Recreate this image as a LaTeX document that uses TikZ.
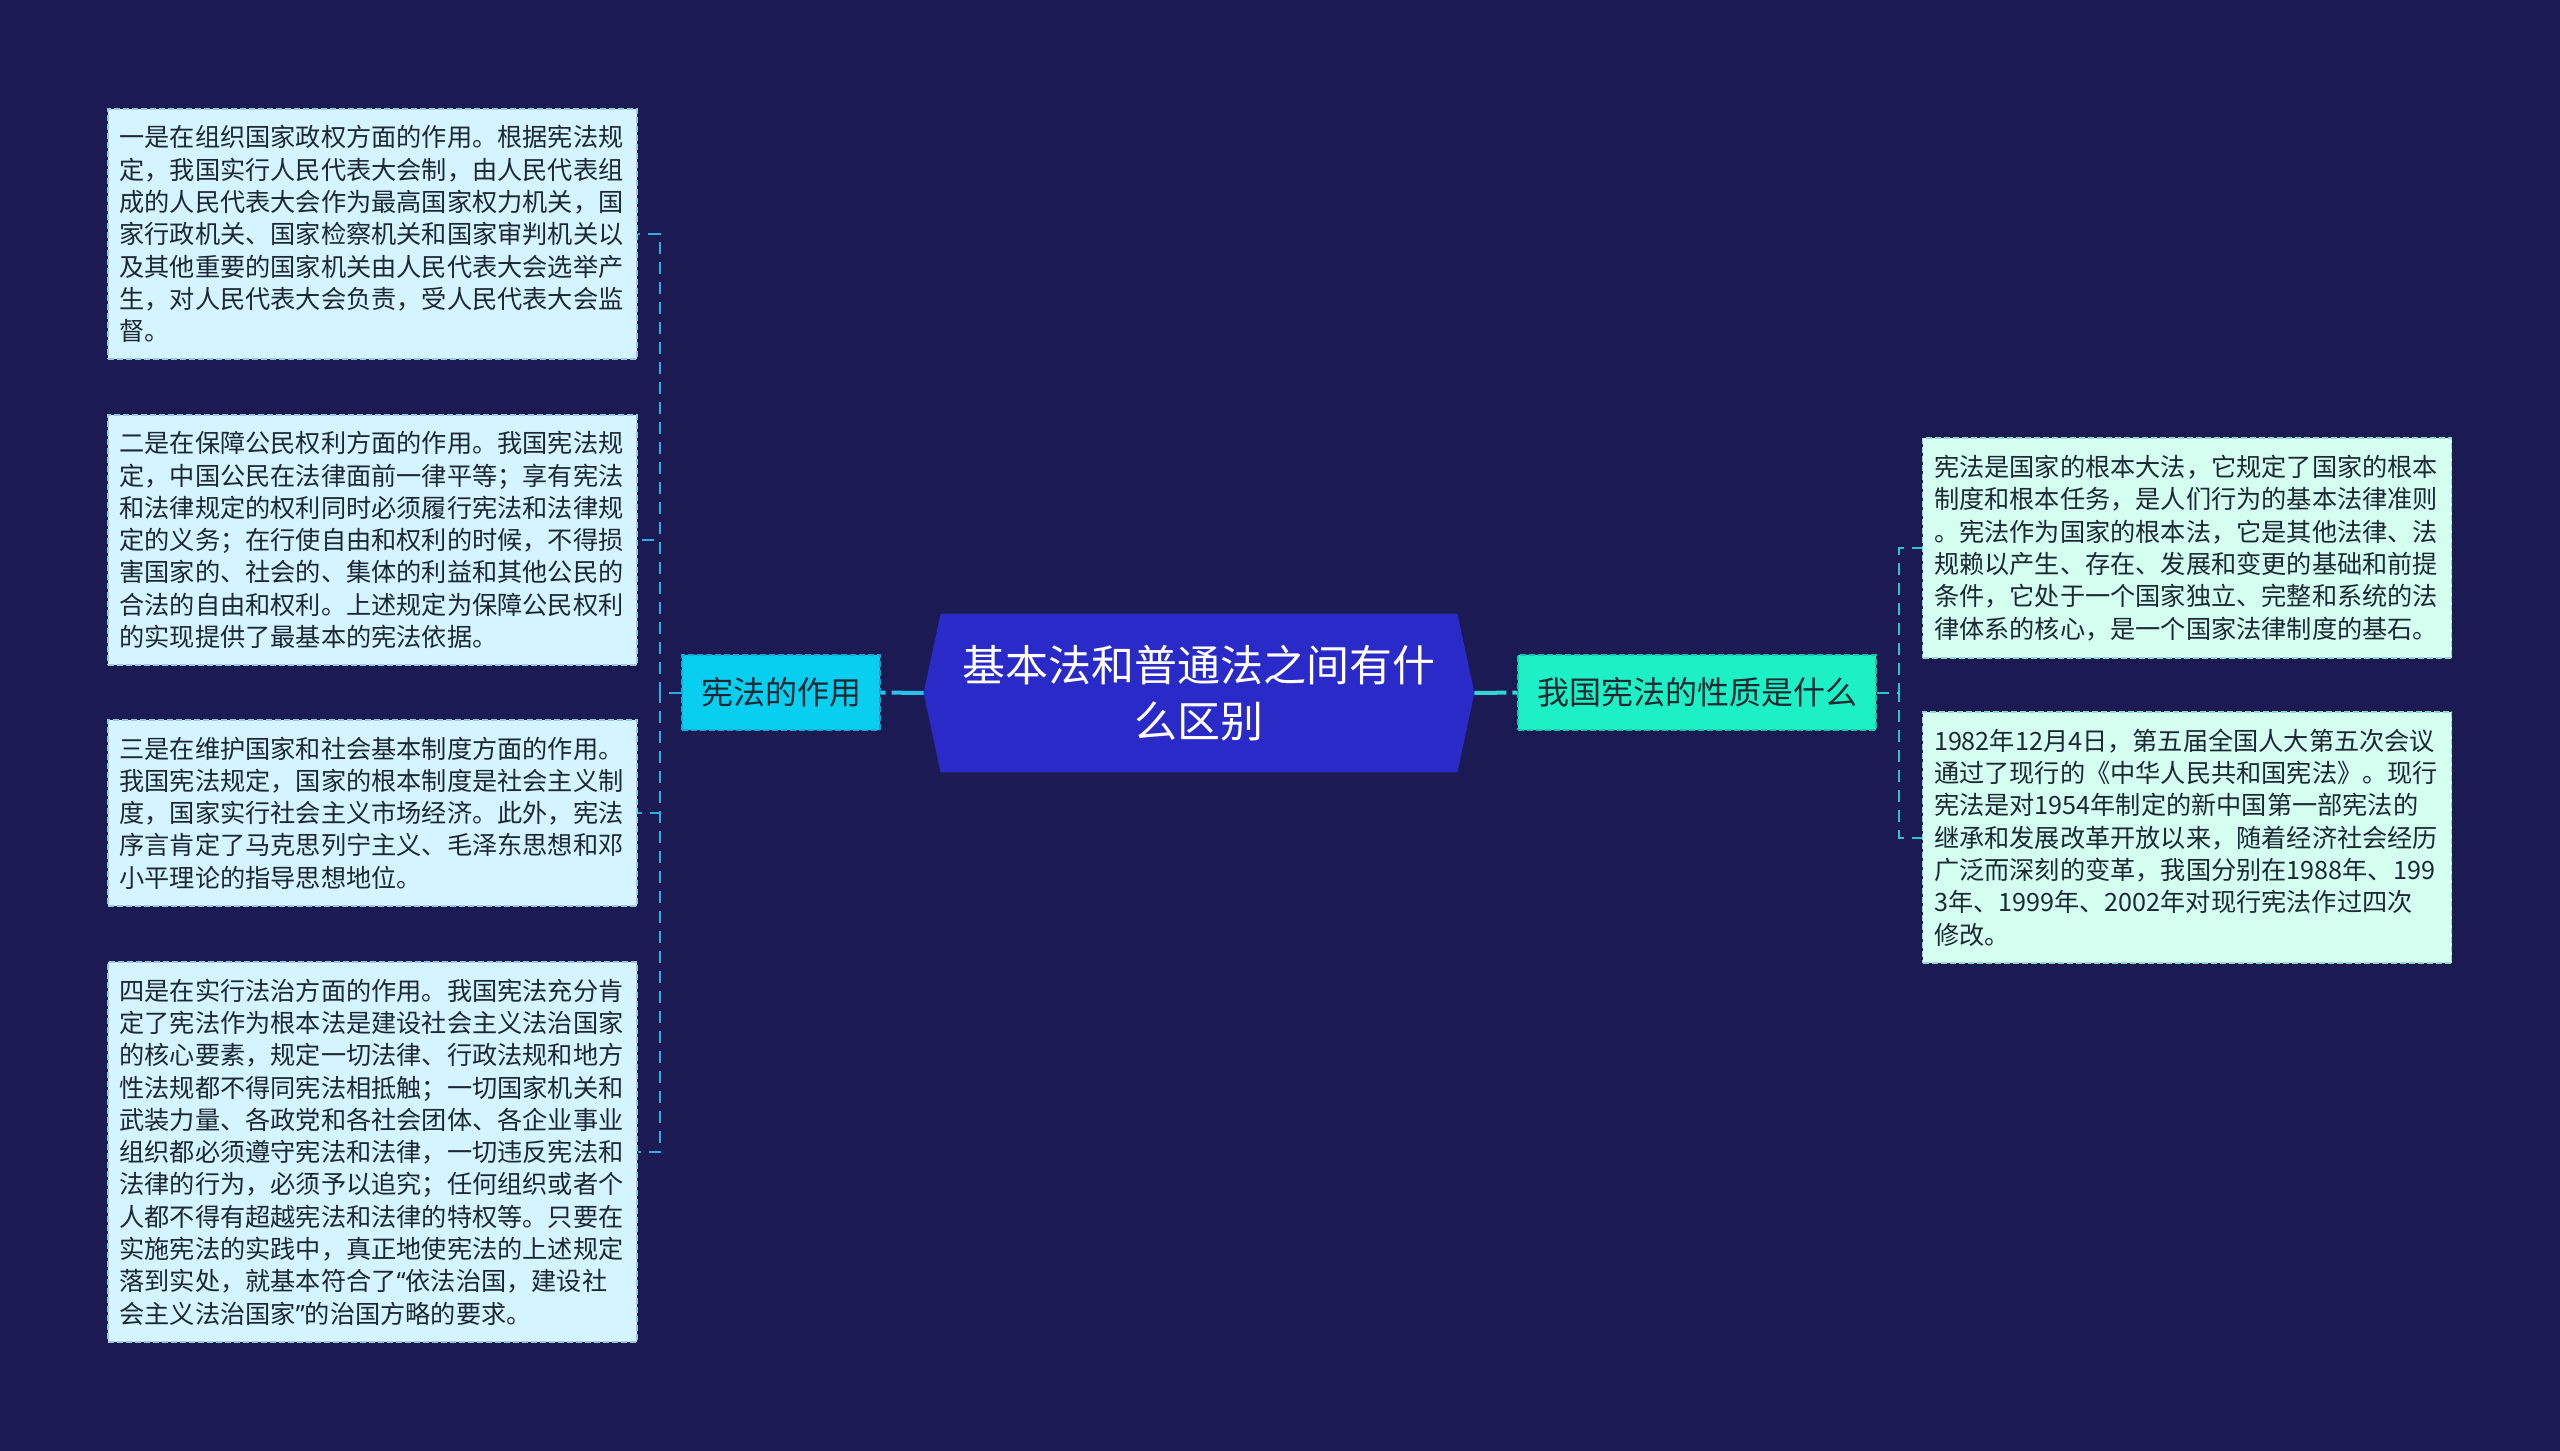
\documentclass[tikz,border=0pt]{standalone}
\usepackage{fontspec}
\setmainfont{Noto Sans CJK SC}
\newfontfamily\latinq{Noto Sans}
\usetikzlibrary{calc,backgrounds}
\definecolor{bgc}{RGB}{27,26,82}
\definecolor{centerfill}{RGB}{42,42,200}
\definecolor{lbfill}{RGB}{8,206,240}
\definecolor{lbdraw}{RGB}{20,170,215}
\definecolor{rbfill}{RGB}{28,240,196}
\definecolor{rbdraw}{RGB}{20,200,170}
\definecolor{lchild}{RGB}{212,244,255}
\definecolor{lchilddraw}{RGB}{150,200,225}
\definecolor{rchild}{RGB}{212,255,240}
\definecolor{rchilddraw}{RGB}{150,215,200}
\definecolor{lline}{RGB}{40,175,228}
\definecolor{rline}{RGB}{40,200,205}
\definecolor{lmain}{RGB}{40,195,235}
\definecolor{rmain}{RGB}{50,215,210}
\definecolor{txt}{RGB}{28,40,52}
\tikzset{
  leaf/.style={font=\fontsize{12.6pt}{16.15pt}\selectfont, align=left, text width=253pt,
    inner xsep=5.75pt, inner ysep=0pt, text=txt, line width=0.75pt, dash pattern=on 3pt off 1.5pt},
  lleaf/.style={leaf, fill=lchild, draw=lchilddraw},
  rleaf/.style={leaf, fill=rchild, draw=rchilddraw},
  branch/.style={font=\fontsize{16pt}{20pt}\selectfont, text=txt, minimum height=37.5pt,
    inner sep=0pt, line width=0.75pt, dash pattern=on 3pt off 1.5pt},
  lconn/.style={draw=lline, line width=1pt, dash pattern=on 6pt off 4pt},
  rconn/.style={draw=rline, line width=1pt, dash pattern=on 6pt off 4pt},
  mainconn/.style={line width=2pt, dash pattern=on 16pt off 3pt},
}
\begin{document}
\begin{tikzpicture}[x=0.5pt, y=-0.5pt]
\useasboundingbox (0,0) rectangle (2560,1451);

% central topic
\node (c) [minimum width=258pt, minimum height=79pt, inner sep=0pt, align=center, text=white,
  font=\fontsize{21.5pt}{27.75pt}\selectfont] at (1199,693) {基本法和普通法之间有什\\么区别};
\coordinate (cL) at ($(c.west)+(-17,0)$);
\coordinate (cR) at ($(c.east)+(17,0)$);

% branches
\node (lb) [branch, fill=lbfill, draw=lbdraw, minimum width=99pt] at (781,692.5) {宪法的作用};
\node (rb) [branch, fill=rbfill, draw=rbdraw, minimum width=179pt] at (1697,692.5) {我国宪法的性质是什么};

% left leaves
\node (l1) [lleaf, minimum height=125pt] at (372.5,234) {一是在组织国家政权方面的作用。根据宪法规\\定，我国实行人民代表大会制，由人民代表组\\成的人民代表大会作为最高国家权力机关，国\\家行政机关、国家检察机关和国家审判机关以\\及其他重要的国家机关由人民代表大会选举产\\生，对人民代表大会负责，受人民代表大会监\\督。};
\node (l2) [lleaf, minimum height=125pt] at (372.5,540) {二是在保障公民权利方面的作用。我国宪法规\\定，中国公民在法律面前一律平等；享有宪法\\和法律规定的权利同时必须履行宪法和法律规\\定的义务；在行使自由和权利的时候，不得损\\害国家的、社会的、集体的利益和其他公民的\\合法的自由和权利。上述规定为保障公民权利\\的实现提供了最基本的宪法依据。};
\node (l3) [lleaf, minimum height=93pt] at (372.5,813) {三是在维护国家和社会基本制度方面的作用。\\我国宪法规定，国家的根本制度是社会主义制\\度，国家实行社会主义市场经济。此外，宪法\\序言肯定了马克思列宁主义、毛泽东思想和邓\\小平理论的指导思想地位。};
\node (l4) [lleaf, minimum height=190pt] at (372.5,1152) {四是在实行法治方面的作用。我国宪法充分肯\\定了宪法作为根本法是建设社会主义法治国家\\的核心要素，规定一切法律、行政法规和地方\\性法规都不得同宪法相抵触；一切国家机关和\\武装力量、各政党和各社会团体、各企业事业\\组织都必须遵守宪法和法律，一切违反宪法和\\法律的行为，必须予以追究；任何组织或者个\\人都不得有超越宪法和法律的特权等。只要在\\实施宪法的实践中，真正地使宪法的上述规定\\落到实处，就基本符合了{\latinq “}依法治国，建设社\\会主义法治国家{\latinq ”}的治国方略的要求。};

% right leaves
\node (r1) [rleaf, minimum height=110pt] at (2187,548) {宪法是国家的根本大法，它规定了国家的根本\\制度和根本任务，是人们行为的基本法律准则\\。宪法作为国家的根本法，它是其他法律、法\\规赖以产生、存在、发展和变更的基础和前提\\条件，它处于一个国家独立、完整和系统的法\\律体系的核心，是一个国家法律制度的基石。};
\node (r2) [rleaf, minimum height=125.5pt] at (2187,837.5) {1982年12月4日，第五届全国人大第五次会议\\通过了现行的《中华人民共和国宪法》。现行\\宪法是对1954年制定的新中国第一部宪法的\\继承和发展改革开放以来，随着经济社会经历\\广泛而深刻的变革，我国分别在1988年、199\\3年、1999年、2002年对现行宪法作过四次\\修改。};

% main connectors
\draw[mainconn, draw=lmain] (cL) -- (lb.east);
\draw[mainconn, draw=rmain] (cR) -- (rb.west);

% left tree connectors
\coordinate (lj) at ($(lb.west)!0.5!(lb.west -| l1.east)$);
\foreach \n in {l1,l2,l3,l4} { \draw[lconn] (lb.west) -- (lj) |- (\n.east); }

% right tree connectors
\coordinate (rj) at ($(rb.east)!0.5!(rb.east -| r1.west)$);
\foreach \n in {r1,r2} { \draw[rconn] (rb.east) -- (rj) |- (\n.west); }

\begin{pgfonlayer}{background}
  \fill[bgc] (0,0) rectangle (2560,1451);
  \fill[centerfill] (c.north west) -- (c.north east) -- (cR) -- (c.south east)
    -- (c.south west) -- (cL) -- cycle;
\end{pgfonlayer}
\end{tikzpicture}
\end{document}
